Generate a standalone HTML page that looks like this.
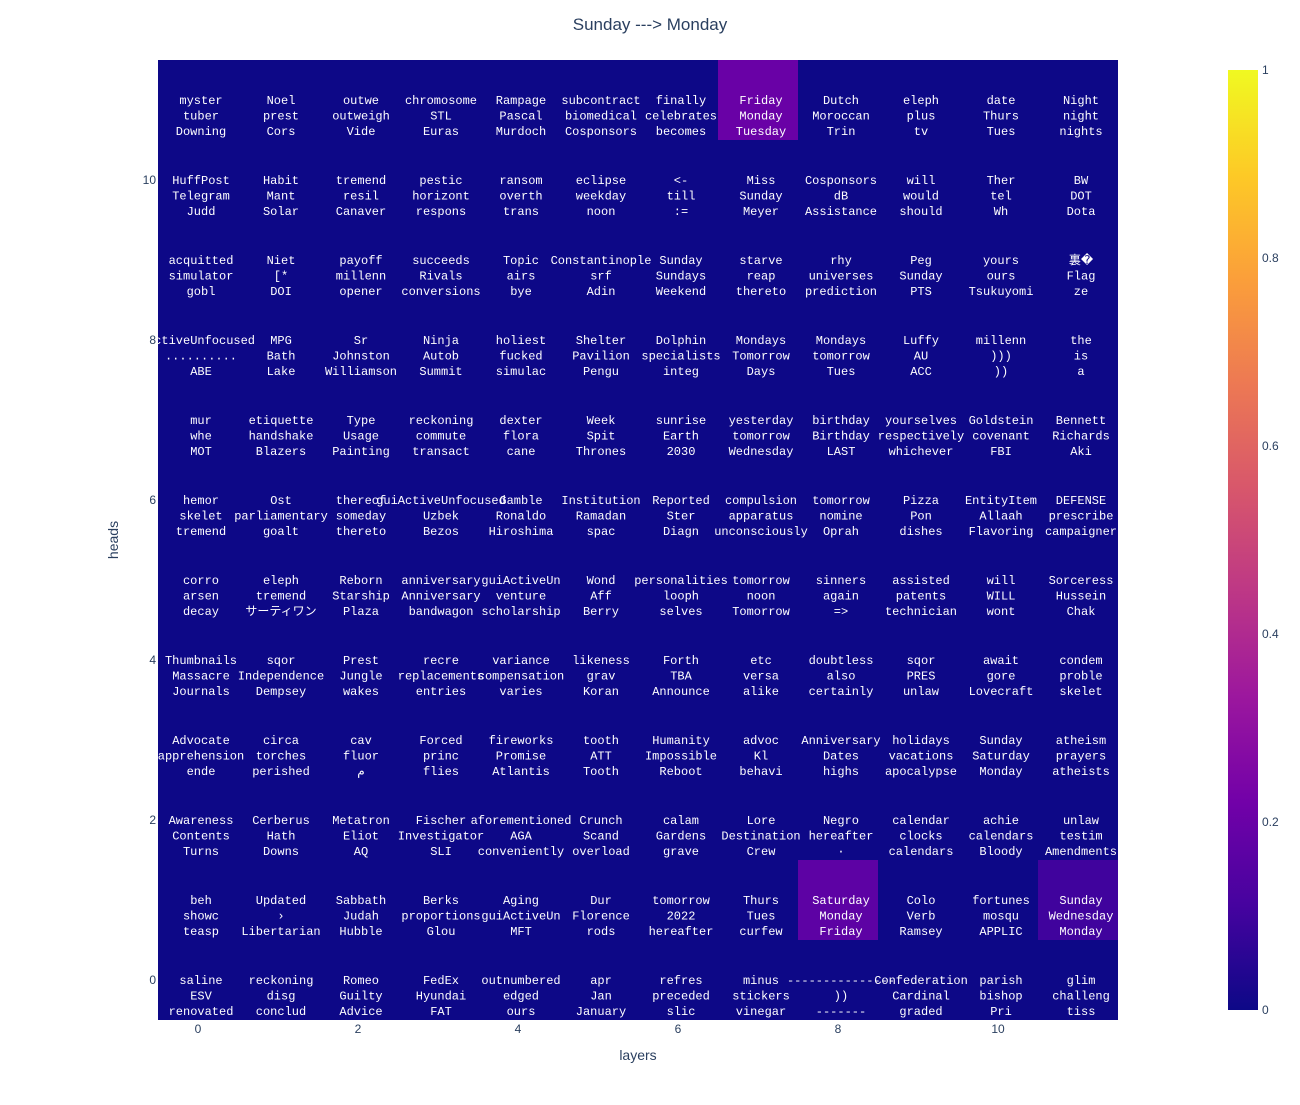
<!DOCTYPE html>
<html><head><meta charset="utf-8"><style>
body{margin:0;background:#fff;}
svg text{font-family:"Liberation Mono","Noto Sans CJK JP",monospace;}
.ax{font-family:"Liberation Sans",sans-serif !important;fill:#2a3f5f;}
</style></head><body>
<svg id="chart" width="1300" height="1100" xmlns="http://www.w3.org/2000/svg">
<defs><linearGradient id="plasma" x1="0" y1="1" x2="0" y2="0">
<stop offset="0" stop-color="#0d0887"/><stop offset="0.111" stop-color="#46039f"/><stop offset="0.222" stop-color="#7201a8"/><stop offset="0.333" stop-color="#9c179e"/><stop offset="0.444" stop-color="#bd3786"/><stop offset="0.556" stop-color="#d8576b"/><stop offset="0.667" stop-color="#ed7953"/><stop offset="0.778" stop-color="#fb9f3a"/><stop offset="0.889" stop-color="#fdca26"/><stop offset="1" stop-color="#f0f921"/></linearGradient></defs>
<text class="ax" x="650" y="30" text-anchor="middle" font-size="17">Sunday ---&gt; Monday</text>
<g id="cells"></g><g id="labels"></g><g id="axes"></g>
<rect x="1228" y="70" width="30" height="940" fill="url(#plasma)"/>
<text class="ax" x="638" y="1060" text-anchor="middle" font-size="14">layers</text>
<text class="ax" x="118" y="540" text-anchor="middle" font-size="14" transform="rotate(-90 118 540)">heads</text>
</svg>
<script>
const row0=["saline|ESV|renovated","reckoning|disg|conclud","Romeo|Guilty|Advice","FedEx|Hyundai|FAT","outnumbered|edged|ours","apr|Jan|January","refres|preceded|slic","minus|stickers|vinegar","---------------|))|-------","Confederation|Cardinal|graded","parish|bishop|Pri","glim|challeng|tiss"];
const row1=["beh|showc|teasp","Updated|›|Libertarian","Sabbath|Judah|Hubble","Berks|proportions|Glou","Aging|guiActiveUn|MFT","Dur|Florence|rods","tomorrow|2022|hereafter","Thurs|Tues|curfew","Saturday|Monday|Friday","Colo|Verb|Ramsey","fortunes|mosqu|APPLIC","Sunday|Wednesday|Monday"];
const row2=["Awareness|Contents|Turns","Cerberus|Hath|Downs","Metatron|Eliot|AQ","Fischer|Investigator|SLI","aforementioned|AGA|conveniently","Crunch|Scand|overload","calam|Gardens|grave","Lore|Destination|Crew","Negro|hereafter|·","calendar|clocks|calendars","achie|calendars|Bloody","unlaw|testim|Amendments"];
const row3=["Advocate|apprehension|ende","circa|torches|perished","cav|fluor|م","Forced|princ|flies","fireworks|Promise|Atlantis","tooth|ATT|Tooth","Humanity|Impossible|Reboot","advoc|Kl|behavi","Anniversary|Dates|highs","holidays|vacations|apocalypse","Sunday|Saturday|Monday","atheism|prayers|atheists"];
const row4=["Thumbnails|Massacre|Journals","sqor|Independence|Dempsey","Prest|Jungle|wakes","recre|replacements|entries","variance|compensation|varies","likeness|grav|Koran","Forth|TBA|Announce","etc|versa|alike","doubtless|also|certainly","sqor|PRES|unlaw","await|gore|Lovecraft","condem|proble|skelet"];
const row5=["corro|arsen|decay","eleph|tremend|サーティワン","Reborn|Starship|Plaza","anniversary|Anniversary|bandwagon","guiActiveUn|venture|scholarship","Wond|Aff|Berry","personalities|looph|selves","tomorrow|noon|Tomorrow","sinners|again|=>","assisted|patents|technician","will|WILL|wont","Sorceress|Hussein|Chak"];
const row6=["hemor|skelet|tremend","Ost|parliamentary|goalt","thereof|someday|thereto","guiActiveUnfocused|Uzbek|Bezos","Gamble|Ronaldo|Hiroshima","Institution|Ramadan|spac","Reported|Ster|Diagn","compulsion|apparatus|unconsciously","tomorrow|nomine|Oprah","Pizza|Pon|dishes","EntityItem|Allaah|Flavoring","DEFENSE|prescribe|campaigner"];
const row7=["mur|whe|MOT","etiquette|handshake|Blazers","Type|Usage|Painting","reckoning|commute|transact","dexter|flora|cane","Week|Spit|Thrones","sunrise|Earth|2030","yesterday|tomorrow|Wednesday","birthday|Birthday|LAST","yourselves|respectively|whichever","Goldstein|covenant|FBI","Bennett|Richards|Aki"];
const row8=["ActiveUnfocused|..........|ABE","MPG|Bath|Lake","Sr|Johnston|Williamson","Ninja|Autob|Summit","holiest|fucked|simulac","Shelter|Pavilion|Pengu","Dolphin|specialists|integ","Mondays|Tomorrow|Days","Mondays|tomorrow|Tues","Luffy|AU|ACC","millenn|)))|))","the|is|a"];
const row9=["acquitted|simulator|gobl","Niet|[*|DOI","payoff|millenn|opener","succeeds|Rivals|conversions","Topic|airs|bye","Constantinople|srf|Adin","Sunday|Sundays|Weekend","starve|reap|thereto","rhy|universes|prediction","Peg|Sunday|PTS","yours|ours|Tsukuyomi","裏�|Flag|ze"];
const row10=["HuffPost|Telegram|Judd","Habit|Mant|Solar","tremend|resil|Canaver","pestic|horizont|respons","ransom|overth|trans","eclipse|weekday|noon","<-|till|:=","Miss|Sunday|Meyer","Cosponsors|dB|Assistance","will|would|should","Ther|tel|Wh","BW|DOT|Dota"];
const row11=["myster|tuber|Downing","Noel|prest|Cors","outwe|outweigh|Vide","chromosome|STL|Euras","Rampage|Pascal|Murdoch","subcontract|biomedical|Cosponsors","finally|celebrates|becomes","Friday|Monday|Tuesday","Dutch|Moroccan|Trin","eleph|plus|tv","date|Thurs|Tues","Night|night|nights"];
const texts=[row0,row1,row2,row3,row4,row5,row6,row7,row8,row9,row10,row11];
const values=[
[0,0,0,0,0,0,0,0,0,0,0,0],
[0,0,0,0,0,0,0,0,0.17,0,0,0.1],
[0,0,0,0,0,0,0,0,0,0,0,0],[0,0,0,0,0,0,0,0,0,0,0,0],[0,0,0,0,0,0,0,0,0,0,0,0],
[0,0,0,0,0,0,0,0,0,0,0,0],[0,0,0,0,0,0,0,0,0,0,0,0],[0,0,0,0,0,0,0,0,0,0,0,0],
[0,0,0,0,0,0,0,0,0,0,0,0],[0,0,0,0,0,0,0,0,0,0,0,0],[0,0,0,0,0,0,0,0,0,0,0,0],
[0,0,0,0,0,0,0,0.2,0,0,0,0]];
const xTicks=[0,2,4,6,8,10];
const yTicks=[0,2,4,6,8,10];
const cbTicks=[0,0.2,0.4,0.6,0.8,1];

const NS="http://www.w3.org/2000/svg";
const X0=158,Y1=1020,CW=80,CH=80;
const xs=i=>X0+i*CW, ys=j=>Y1-(j+1)*CH;
const stops=[[0,[13,8,135]],[0.111,[70,3,159]],[0.222,[114,1,168]],[0.333,[156,23,158]],[0.444,[189,55,134]],[0.556,[216,87,107]],[0.667,[237,121,83]],[0.778,[251,159,58]],[0.889,[253,202,38]],[1,[240,249,33]]];
function col(v){for(let k=1;k<stops.length;k++){if(v<=stops[k][0]){const a=stops[k-1],b=stops[k],t=(v-a[0])/(b[0]-a[0]);return 'rgb('+a[1].map((c,i)=>Math.round(c+(b[1][i]-c)*t)).join(',')+')';}}return 'rgb(240,249,33)';}
function mk(tag,at,parent){const e=document.createElementNS(NS,tag);for(const k in at)e.setAttribute(k,at[k]);parent.appendChild(e);return e;}
const cells=document.getElementById('cells'),labels=document.getElementById('labels'),axes=document.getElementById('axes');
for(let j=0;j<12;j++)for(let i=0;i<12;i++){
 const r=mk('rect',{x:xs(i),y:ys(j),width:CW,height:CH,fill:col(values[j][i])},cells);
 
 
 const lines=texts[j][i].split('|');
 lines.forEach((s,k)=>{const t=mk('text',{x:xs(i)+CW/2+3,y:ys(j)+44+k*15.5,'text-anchor':'middle','font-size':'12',fill:'#fff'},labels);t.textContent=s;
 
 });
}
xTicks.forEach(v=>{const t=mk('text',{class:'ax',x:xs(v)+CW/2,y:1033,'text-anchor':'middle','font-size':'12'},axes);t.textContent=v;
 
 });
yTicks.forEach(v=>{const t=mk('text',{class:'ax',x:156,y:ys(v)+CH/2+4,'text-anchor':'end','font-size':'12'},axes);t.textContent=v;
 
 });
cbTicks.forEach(v=>{const t=mk('text',{class:'ax',x:1262,y:1010-v*940+4,'font-size':'12'},axes);t.textContent=v;
 
 });
</script>
</body></html>
